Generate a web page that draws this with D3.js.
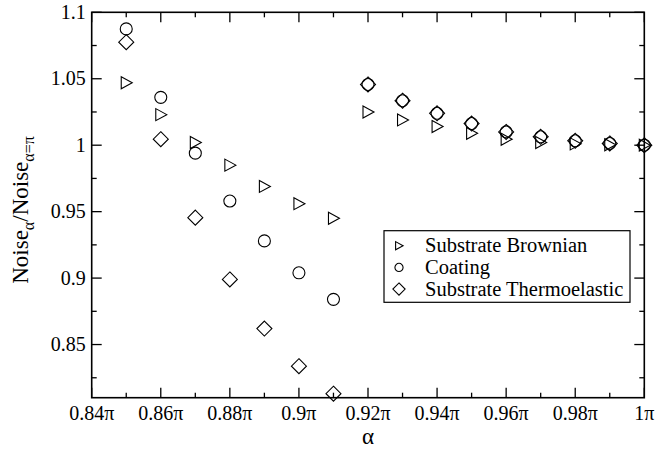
<!DOCTYPE html>
<html>
<head>
<meta charset="utf-8">
<script src="https://cdn.jsdelivr.net/npm/d3@7"></script>
<style>
  body { margin: 0; background: #fff; }
  svg { display: block; }
  text { font-family: "Liberation Serif", "Times New Roman", serif; fill: #000; }
</style>
</head>
<body>
<div id="chart"></div>
<script>
const width = 668;
const height = 450;

// alpha in units of pi
const alphaVals = [0.85, 0.86, 0.87, 0.88, 0.89, 0.90, 0.91, 0.92, 0.93, 0.94, 0.95, 0.96, 0.97, 0.98, 0.99, 1.00];
const brownian = [1.047, 1.023, 1.002, 0.985, 0.969, 0.956, 0.945, 1.025, 1.019, 1.014, 1.009, 1.0045, 1.002, 1.001, 1.0003, 1.0];
const coating = [1.0875, 1.036, 0.994, 0.958, 0.928, 0.904, 0.884, 1.0457, 1.0335, 1.024, 1.0163, 1.010, 1.0063, 1.0033, 1.0013, 1.0];
const thermo = [1.0775, 1.0045, 0.9455, 0.899, 0.862, 0.8337, 0.813, 1.0457, 1.0335, 1.024, 1.0163, 1.010, 1.0063, 1.0033, 1.0013, 1.0];

const xMajor = [0.84, 0.86, 0.88, 0.90, 0.92, 0.94, 0.96, 0.98, 1.00];
const xMinor = [0.85, 0.87, 0.89, 0.91, 0.93, 0.95, 0.97, 0.99];
const xLabels = ["0.84π", "0.86π", "0.88π", "0.9π", "0.92π", "0.94π", "0.96π", "0.98π", "1π"];
const yMajor = [0.85, 0.9, 0.95, 1.0, 1.05, 1.1];
const yMinor = [0.825, 0.875, 0.925, 0.975, 1.025, 1.075];
const yLabels = ["0.85", "0.9", "0.95", "1", "1.05", "1.1"];

const seriesNames = ["Substrate Brownian", "Coating", "Substrate Thermoelastic"];
const seriesShapes = ["triangle", "circle", "diamond"];

const margin = { top: 12.3, right: 23.7, bottom: 52.3, left: 91.7 };
const plotW = width - margin.left - margin.right;
const plotH = height - margin.top - margin.bottom;

const x = d3.scaleLinear().domain([0.84, 1.0]).range([0, plotW]);
const y = d3.scaleLinear().domain([0.81, 1.1]).range([plotH, 0]);

const svg = d3.select("#chart")
    .append("svg")
    .attr("width", width)
    .attr("height", height);

const g = svg.append("g")
    .attr("transform", `translate(${margin.left},${margin.top})`);

// ticks on all four sides, pointing inward
function xTicks(vals, len) {
    g.selectAll(null).data(vals).join("line")
        .attr("x1", d => x(d)).attr("x2", d => x(d))
        .attr("y1", plotH).attr("y2", plotH - len)
        .attr("stroke", "#000").attr("stroke-width", 1.3);
    g.selectAll(null).data(vals).join("line")
        .attr("x1", d => x(d)).attr("x2", d => x(d))
        .attr("y1", 0).attr("y2", len)
        .attr("stroke", "#000").attr("stroke-width", 1.3);
}
function yTicks(vals, len) {
    g.selectAll(null).data(vals).join("line")
        .attr("x1", 0).attr("x2", len)
        .attr("y1", d => y(d)).attr("y2", d => y(d))
        .attr("stroke", "#000").attr("stroke-width", 1.3);
    g.selectAll(null).data(vals).join("line")
        .attr("x1", plotW).attr("x2", plotW - len)
        .attr("y1", d => y(d)).attr("y2", d => y(d))
        .attr("stroke", "#000").attr("stroke-width", 1.3);
}
xTicks(xMajor, 10);
xTicks(xMinor, 5);
yTicks(yMajor, 10);
yTicks(yMinor, 5);

g.append("rect")
    .attr("width", plotW)
    .attr("height", plotH)
    .attr("fill", "none")
    .attr("stroke", "#000")
    .attr("stroke-width", 1.6);

// tick labels
g.selectAll(".xlab").data(xMajor).join("text")
    .attr("class", "xlab")
    .attr("x", d => x(d))
    .attr("y", plotH + 22)
    .attr("text-anchor", "middle")
    .attr("font-size", 20)
    .text((d, i) => xLabels[i]);

g.selectAll(".ylab").data(yMajor).join("text")
    .attr("class", "ylab")
    .attr("x", -6)
    .attr("y", d => y(d))
    .attr("dy", "0.33em")
    .attr("text-anchor", "end")
    .attr("font-size", 20)
    .text((d, i) => yLabels[i]);

// axis titles
svg.append("text")
    .attr("x", margin.left + plotW / 2)
    .attr("y", 444)
    .attr("text-anchor", "middle")
    .attr("font-size", 23)
    .text("α");

const ylab = svg.append("text")
    .attr("transform", "translate(28,210) rotate(-90)")
    .attr("text-anchor", "middle")
    .attr("font-size", 23);
ylab.append("tspan").text("Noise");
ylab.append("tspan").attr("font-size", 16).attr("dy", 6).text("α");
ylab.append("tspan").attr("dy", -6).text("/Noise");
ylab.append("tspan").attr("font-size", 16).attr("dy", 6).text("α=π");

// markers
function drawMarker(sel, shape, s) {
    if (shape === "circle") {
        sel.append("circle").attr("r", 6 * s);
    } else if (shape === "diamond") {
        const r = 7.5 * Math.min(1, s * 1.2);
        sel.append("path").attr("d", `M0,${-r}L${r},0L0,${r}L${-r},0Z`);
    } else {
        sel.append("path").attr("d", `M${-5 * s},${-6 * s}L${6 * s},0L${-5 * s},${6 * s}Z`);
    }
    sel.selectAll("circle,path")
        .attr("fill", "none")
        .attr("stroke", "#000")
        .attr("stroke-width", 1.1);
}

const seriesData = [brownian, coating, thermo];
seriesData.forEach((vals, si) => {
    g.selectAll(null).data(alphaVals).join("g")
        .attr("transform", (d, i) => `translate(${x(d)},${y(vals[i])})`)
        .each(function() { drawMarker(d3.select(this), seriesShapes[si], 1); });
});

// legend
const legend = svg.append("g").attr("transform", "translate(384,230.7)");
legend.append("rect")
    .attr("width", 246)
    .attr("height", 71.6)
    .attr("fill", "#fff")
    .attr("stroke", "#000")
    .attr("stroke-width", 1.2);
seriesNames.forEach((name, i) => {
    const row = legend.append("g").attr("transform", `translate(15,${15 + i * 21.7})`);
    drawMarker(row, seriesShapes[i], 0.68);
    row.append("text")
        .attr("x", 26)
        .attr("dy", "0.33em")
        .attr("font-size", 20.5)
        .text(name);
});
</script>
</body>
</html>
